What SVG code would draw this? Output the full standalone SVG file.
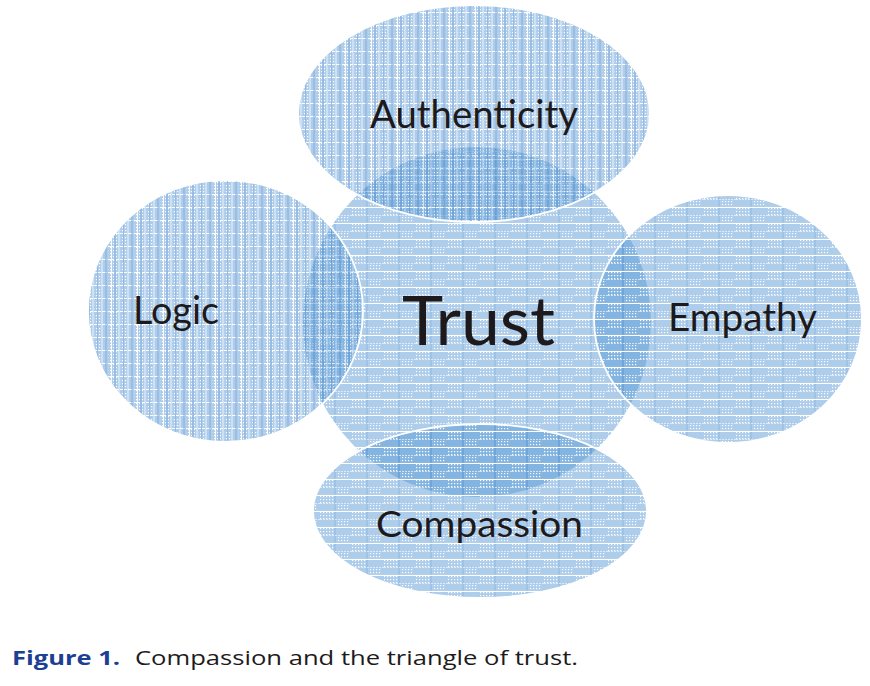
<svg xmlns="http://www.w3.org/2000/svg" width="870" height="686" viewBox="0 0 870 686">
<style>
.lbl{font-family:Lato,"Open Sans","Liberation Sans",sans-serif;fill:#1e1a1b;text-anchor:middle}
.shape{opacity:0.5}
.edge{fill:none;stroke:#ffffff;stroke-width:1.8}
.cap{font-family:"Open Sans","Liberation Sans",sans-serif;font-size:20px}
</style>
<defs>
<pattern id="dots" width="3" height="3" patternUnits="userSpaceOnUse">
<rect x="0" y="0" width="1.2" height="1.2" fill="#ffffff"/>
</pattern>
<pattern id="vstripes" width="26" height="13" patternUnits="userSpaceOnUse">
<rect width="26" height="13" fill="#5b9bd5"/>
<rect x="4" y="0" width="9" height="13" fill="url(#dots)"/>
<rect x="16" y="3" width="8" height="9" fill="url(#dots)"/>
<line x1="0" y1="12.5" x2="26" y2="12.5" stroke="#ffffff" stroke-width="1" stroke-dasharray="3 1"/>
<line x1="2" y1="0" x2="2" y2="13" stroke="#1f66b8" stroke-width="1.2"/>
<line x1="7.5" y1="0" x2="7.5" y2="13" stroke="#ffffff" stroke-width="0.9"/>
<line x1="11" y1="0" x2="11" y2="13" stroke="#2a70c0" stroke-width="1.6"/>
<line x1="15" y1="0" x2="15" y2="13" stroke="#ffffff" stroke-width="0.8"/>
<line x1="19.5" y1="0" x2="19.5" y2="13" stroke="#2f76c6" stroke-width="1"/>
<line x1="24" y1="0" x2="24" y2="13" stroke="#ffffff" stroke-width="0.8"/>
</pattern>
<pattern id="checks" width="32" height="16" patternUnits="userSpaceOnUse">
<rect width="32" height="16" fill="#5b9bd5"/>
<rect x="0" y="0" width="14" height="7" fill="url(#dots)"/>
<rect x="16" y="8" width="14" height="7" fill="url(#dots)"/>
<rect x="14" y="0" width="2" height="16" fill="#3f86cc"/>
<line x1="0" y1="15.5" x2="32" y2="15.5" stroke="#ffffff" stroke-width="1.1"/>
<line x1="0" y1="7.5" x2="32" y2="7.5" stroke="#ffffff" stroke-width="0.6" stroke-dasharray="2 1"/>
</pattern>
</defs>
<g id="connectors"></g>
<g id="node-trust">
<ellipse class="shape" cx="477" cy="322" rx="174" ry="175" fill="url(#checks)"/>
</g>
<g id="node-authenticity">
<ellipse class="shape" cx="474" cy="113.5" rx="176" ry="108.5" fill="url(#vstripes)"/>
<ellipse class="edge" cx="474" cy="113.5" rx="176" ry="108.5"/>
</g>
<g id="node-logic">
<ellipse class="shape" cx="225.5" cy="311" rx="137.5" ry="131" fill="url(#vstripes)"/>
<ellipse class="edge" cx="225.5" cy="311" rx="137.5" ry="131"/>
</g>
<g id="node-empathy">
<ellipse class="shape" cx="728" cy="319" rx="134" ry="124" fill="url(#checks)"/>
<ellipse class="edge" cx="728" cy="319" rx="134" ry="124"/>
</g>
<g id="node-compassion">
<ellipse class="shape" cx="480" cy="511" rx="167" ry="87" fill="url(#checks)"/>
<ellipse class="edge" cx="480" cy="511" rx="167" ry="87"/>
</g>
<g id="labels">
<text class="lbl" x="474" y="128" font-size="39" textLength="208" lengthAdjust="spacingAndGlyphs">Authenticity</text>
<text class="lbl" x="478.5" y="345" font-size="67" textLength="153" lengthAdjust="spacingAndGlyphs">Trust</text>
<text class="lbl" x="176" y="324" font-size="38" textLength="86" lengthAdjust="spacingAndGlyphs">Logic</text>
<text class="lbl" x="742.5" y="331" font-size="38" textLength="149" lengthAdjust="spacingAndGlyphs">Empathy</text>
<text class="lbl" x="479.5" y="537" font-size="36" textLength="207" lengthAdjust="spacingAndGlyphs">Compassion</text>
</g>
<g id="caption">
<text class="cap" x="12" y="665" font-weight="bold" fill="#1c3f94" textLength="108" lengthAdjust="spacingAndGlyphs">Figure 1.</text>
<text class="cap" x="135" y="665" fill="#1e1a1b" textLength="443" lengthAdjust="spacingAndGlyphs">Compassion and the triangle of trust.</text>
</g>
</svg>
